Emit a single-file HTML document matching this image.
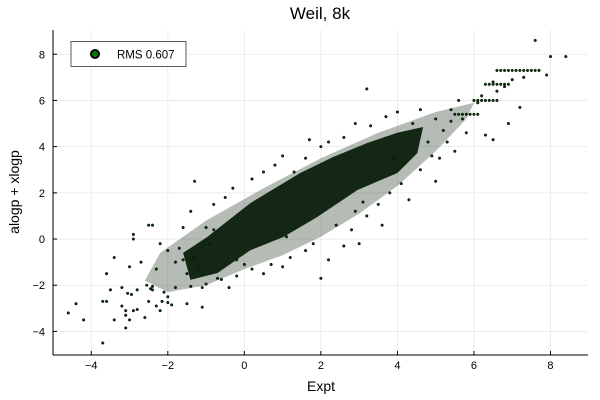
<!DOCTYPE html>
<html><head><meta charset="utf-8"><style>
html,body{margin:0;padding:0;background:#fff}
svg{display:block;font-family:"Liberation Sans","DejaVu Sans",sans-serif}
</style></head><body>
<svg id="chart" width="600" height="400">
<text x="320" y="19" text-anchor="middle" font-size="17" fill="#000">Weil, 8k</text>
<g id="grid"></g>
<g id="marks"></g>
<g id="axes"></g>
<text x="321" y="391" text-anchor="middle" font-size="14">Expt</text>
<text transform="translate(19,192) rotate(-90)" text-anchor="middle" font-size="14">alogp + xlogp</text>
<g>
<rect x="71" y="41.5" width="115" height="25" fill="#fff" stroke="#333" stroke-width="0.8"/>
<circle cx="95" cy="54" r="4" fill="#008000" stroke="#000" stroke-width="2"/>
<text x="117" y="58.5" font-size="11.5">RMS 0.607</text>
</g>
</svg>
<script>
const xTicks=[-4,-2,0,2,4,6,8];
const yTicks=[-4,-2,0,2,4,6,8];
const coreX=[-0.97,0.16,1.46,2.32,3.21,4.0,4.67,4.52,4.0,2.95,1.9,1.02,0.16,-0.7,-1.41,-1.6];
const coreY=[0.09,1.56,2.86,3.55,4.16,4.6,4.85,3.72,2.86,2.12,0.95,0.09,-0.48,-1.47,-1.77,-0.6];
const haloX=[-2.2,-1,0.5,2,3.5,5,6,5.8,5,4,3,2,1,0,-1,-2,-2.6];
const haloY=[-0.6,0.8,2.2,3.5,4.6,5.5,5.9,5.2,3.8,2.3,1.1,0.1,-0.7,-1.3,-2.0,-2.3,-1.8];
const ptX=[-4.6,-4.4,-4.2,-3.7,-3.6,-3.7,-3.5,-3.4,-3.2,-3.1,-3.1,-3.1,-3.0,-2.9,-2.8,-2.6,-2.55,-2.5,-2.4,-2.3,-2.2,-2.15,-2.0,-2.0,-1.9,-1.5,-1.1,-0.4,-3.2,-3.05,-2.95,-2.8,-2.45,-2.4,-2.1,-1.8,-1.4,-1.1,-1.0,-0.7,-0.6,
-2.9,-2.9,-2.5,-2.4,-1.6,-1.4,-1.3,-2.0,-3.0,-3.4,-3.6,-2.7,-2.3,-2.2,-1.8,-1.7,-1.5,-1.3,-1.2,-1.0,-0.9,-0.8,-0.5,-0.3,0.2,0.5,0.8,1.0,1.3,1.6,2.0,2.2,1.7,2.6,2.9,3.2,3.3,3.7,4.0,4.4,4.6,5.0,5.4,5.6,
0.5,0.7,1.2,1.6,2.0,2.2,2.6,2.8,3.0,3.2,3.5,3.6,3.8,4.1,4.3,4.6,5.0,5.1,5.3,5.5,5.8,6.3,6.5,6.5,1.0,0.2,-0.2,
6.1,6.2,6.6,6.8,7.0,7.3,7.6,8.0,7.9,8.4,6.9,7.2,
6.6,6.7,6.8,6.9,7.0,7.1,7.2,7.3,7.4,7.5,7.6,7.7,
6.3,6.4,6.5,6.6,6.7,6.8,6.9,6.0,6.1,6.2,6.3,6.4,6.5,6.6,5.5,5.6,5.7,5.8,5.9,6.0,6.1,
5.2,5.4,5.7,4.8,4.9,3.9,4.2,0.0,-0.2,1.8,2.4,3.1,-0.8,-1.6,1.1,2.9];
const ptY=[-3.2,-2.8,-3.5,-2.7,-2.7,-4.5,-2.2,-3.5,-2.9,-3.3,-3.1,-3.85,-3.5,-3.1,-3.05,-3.4,-2.0,-2.7,-2.2,-2.9,-3.1,-2.7,-2.5,-2.75,-2.85,-2.8,-2.95,-2.1,-2.1,-2.35,-2.4,-2.2,-2.15,-2.05,-2.3,-2.1,-2.05,-2.1,-1.95,-1.7,-1.75,
0.2,0.0,0.6,0.6,0.5,1.2,2.5,-0.5,-1.2,-0.8,-1.5,-1.0,-1.3,-0.2,-1.0,-0.4,-1.5,-0.8,-1.3,0.5,-0.2,1.5,1.8,2.2,2.6,2.9,3.2,3.6,2.9,3.5,4.0,4.2,4.3,4.4,5.0,6.5,4.9,5.3,5.5,5.0,5.6,5.2,5.6,6.0,
-1.5,-1.1,-0.8,-0.5,-1.7,-0.9,-0.3,0.4,-0.2,1.0,1.5,0.6,2.0,2.4,1.7,3.0,2.5,3.5,4.2,3.8,4.6,4.5,6.8,4.3,-1.2,-1.3,-1.6,
5.9,6.2,6.4,6.6,6.9,7.0,8.6,7.9,7.1,7.9,5.0,5.7,
7.3,7.3,7.3,7.3,7.3,7.3,7.3,7.3,7.3,7.3,7.3,7.3,
6.7,6.7,6.7,6.7,6.7,6.7,6.7,6.0,6.0,6.0,6.0,6.0,6.0,6.0,5.4,5.4,5.4,5.4,5.4,5.4,5.4,
4.7,5.1,5.2,4.2,3.6,3.5,3.3,-1.1,-0.9,-0.2,0.6,1.6,0.4,-0.9,0.1,1.2];
const L=53,R=588,T=30,B=355,xmin=-5,xmax=8.98,ymin=-5.02,ymax=9.05;
const sx=v=>L+(v-xmin)/(xmax-xmin)*(R-L);
const sy=v=>B-(v-ymin)/(ymax-ymin)*(B-T);
const NS='http://www.w3.org/2000/svg';
const mk=(t,a,p)=>{const e=document.createElementNS(NS,t);for(const k in a)e.setAttribute(k,a[k]);p.appendChild(e);return e;};
const grid=document.getElementById('grid'),axes=document.getElementById('axes'),marks=document.getElementById('marks');
xTicks.forEach(v=>{
 const g=mk('line',{x1:sx(v),x2:sx(v),y1:T,y2:B,stroke:'#e8e8e8','stroke-width':0.8},grid);
 
 
 const tk=mk('line',{x1:sx(v),x2:sx(v),y1:B,y2:B-4,stroke:'#000','stroke-width':1},axes);
 
 
 const t=mk('text',{x:sx(v),y:B+14,'text-anchor':'middle','font-size':11},axes);
 t.textContent=(v<0?'\u2212'+(-v):v);
 
 
});
yTicks.forEach(v=>{
 const g=mk('line',{x1:L,x2:R,y1:sy(v),y2:sy(v),stroke:'#e8e8e8','stroke-width':0.8},grid);
 
 
 const tk=mk('line',{x1:L,x2:L+4,y1:sy(v),y2:sy(v),stroke:'#000','stroke-width':1},axes);
 
 
 const t=mk('text',{x:L-8,y:sy(v)+4,'text-anchor':'end','font-size':11},axes);
 t.textContent=(v<0?'\u2212'+(-v):v);
 
 
});
const xa=mk('line',{x1:L,x2:R,y1:B,y2:B,stroke:'#000','stroke-width':1},axes);


const ya=mk('line',{x1:L,x2:L,y1:T,y2:B,stroke:'#000','stroke-width':1},axes);


const halo=mk('polygon',{points:haloX.map((x,i)=>sx(x)+','+sy(haloY[i])).join(' '),fill:'#0a200a','fill-opacity':0.3,'stroke-linejoin':'round'},marks);


const core=mk('polygon',{points:coreX.map((x,i)=>sx(x)+','+sy(coreY[i])).join(' '),fill:'#071a07','fill-opacity':0.92},marks);


ptX.forEach((x,i)=>{
 const c=mk('circle',{cx:sx(x),cy:sy(ptY[i]),r:1.3,fill:'#0a3a0a',stroke:'#000','stroke-width':0.5},marks);
 
 
});
</script>
</body></html>
